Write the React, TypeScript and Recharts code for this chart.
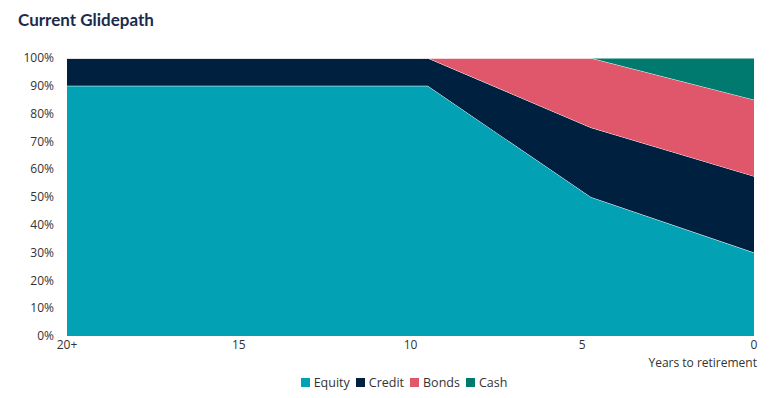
import React from "react";
import { AreaChart, Area, XAxis, YAxis, Legend } from "recharts";

const years = [20, 9.5, 4.75, 0];
const equity = [90, 90, 50, 30];
const credit = [10, 10, 25, 27.5];
const bonds = [0, 0, 25, 27.5];
const cash = [0, 0, 0, 15];
const yTicks = [0, 10, 20, 30, 40, 50, 60, 70, 80, 90, 100];
const xTicks = [20, 15, 10, 5, 0];

const data = years.map((y, i) => ({
  year: y,
  Equity: equity[i],
  Credit: credit[i],
  Bonds: bonds[i],
  Cash: cash[i],
}));

const series = [
  { key: "Equity", color: "#02A2B4" },
  { key: "Credit", color: "#00203F" },
  { key: "Bonds", color: "#E0566A" },
  { key: "Cash", color: "#007A6E" },
];

// legend is centred over the plot area, not the whole chart
const renderLegend = () => (
  <div
    style={{
      display: "flex",
      justifyContent: "center",
      gap: 6,
      fontSize: 12.5,
      color: "#333",
      height: 22,
      alignItems: "center",
      paddingLeft: 54,
    }}
  >
    {series.map((s) => (
      <span key={s.key} style={{ display: "flex", alignItems: "center" }}>
        <span style={{ width: 9, height: 9, background: s.color, display: "inline-block", marginRight: 4 }} />
        {s.key}
      </span>
    ))}
  </div>
);

const App = () => {
  return (
    <div style={{ position: "absolute", left: 0, top: 0, width: 774, height: 398, background: "#fff" }}>
      <div
        style={{
          position: "absolute",
          left: 18,
          top: 9,
          fontFamily: "Lato, sans-serif",
          fontWeight: 700,
          fontSize: 17,
          color: "#1B2B4D",
        }}
      >
        Current Glidepath
      </div>
      <AreaChart
        width={774}
        height={398}
        data={data}
        margin={{ top: 58, right: 20, left: 0, bottom: 5 }}
        style={{ fontFamily: "'Open Sans', sans-serif" }}
      >
        <XAxis
          dataKey="year"
          type="number"
          domain={[0, 20]}
          reversed
          ticks={xTicks}
          tickFormatter={(v) => (v === 20 ? "20+" : String(v))}
          axisLine={false}
          tickLine={false}
          tickSize={2}
          tickMargin={2}
          height={35}
          tick={{ fontSize: 12, fill: "#333" }}
          label={{
            value: "Years to retirement",
            position: "insideBottomRight",
            offset: 4,
            fontSize: 12,
            fill: "#333",
            dx: 7,
          }}
        />
        <YAxis
          domain={[0, 100]}
          ticks={yTicks}
          tickFormatter={(v) => `${v}%`}
          axisLine={false}
          tickLine={false}
          tickMargin={7}
          width={67}
          interval={0}
          tick={{ fontSize: 12, fill: "#333" }}
        />
        <Legend verticalAlign="bottom" content={renderLegend} />
        {series.map((s) => (
          <Area
            key={s.key}
            type="linear"
            dataKey={s.key}
            stackId="1"
            fill={s.color}
            fillOpacity={1}
            stroke="#fff"
            strokeWidth={1}
            isAnimationActive={false}
          />
        ))}
      </AreaChart>
    </div>
  );
};

export default App;
